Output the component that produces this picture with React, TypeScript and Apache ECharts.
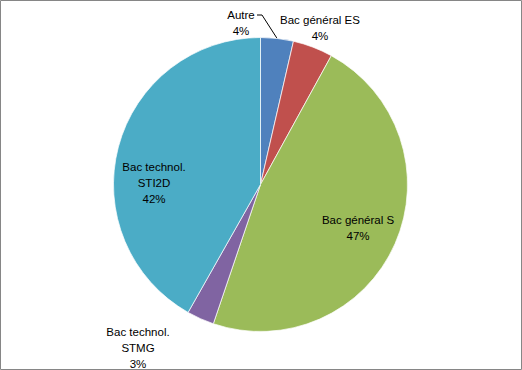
import React, { useEffect, useRef } from "react";
import * as echarts from "echarts";

const categories = ["Autre", "Bac général ES", "Bac général S", "Bac technol.\nSTMG", "Bac technol.\nSTI2D"];
const values = [3.6, 4.4, 47.2, 3.0, 41.8];
const colors = ["#4F81BD", "#C0504D", "#9BBB59", "#8064A2", "#4BACC6"];

// label anchor positions (center of text block) per slice
const labelPos: [number, number][] = [
  [241, 23],
  [320, 28],
  [358, 228],
  [138, 348],
  [154, 183],
];

export default function App() {
  const ref = useRef<HTMLDivElement>(null);
  useEffect(() => {
    if (!ref.current) return;
    const chart = echarts.init(ref.current, undefined, { renderer: "svg" });
    const cx = 260.5;
    const cy = 184.5;
    const r = 147;
    chart.setOption({
      animation: false,
      backgroundColor: "#ffffff",
      graphic: [
        {
          type: "rect",
          shape: { x: 0.5, y: 0.5, width: 521, height: 369 },
          style: { fill: "none", stroke: "#868686", lineWidth: 1 },
          silent: true,
          z: 100,
        },
      ],
      series: [
        {
          type: "pie",
          center: [cx, cy],
          radius: [0, r],
          startAngle: 90,
          clockwise: true,
          avoidLabelOverlap: false,
          percentPrecision: 0,
          itemStyle: { borderColor: "#ffffff", borderWidth: 0.7 },
          label: {
            show: true,
            position: "outside",
            formatter: (p: any) => `${p.name}\n${Math.round(p.percent)}%`,
            fontFamily: "Liberation Sans",
            fontSize: 11.5,
            color: "#000000",
            lineHeight: 16,
            align: "center",
          },
          labelLine: { show: false, lineStyle: { color: "#000000", width: 1 } },
          labelLayout: (params: any) => {
            const i = params.dataIndex;
            const [x, y] = labelPos[i];
            const res: any = { x, y, align: "center", verticalAlign: "middle" };
            if (i === 0) {
              const mid = (values[0] / 2 / 100) * Math.PI * 2;
              const ex = cx + r * Math.sin(mid);
              const ey = cy - r * Math.cos(mid);
              res.labelLinePoints = [
                [ex, ey],
                [262, 15],
                [257, 15],
              ];
            }
            return res;
          },
          data: categories.map((name, i) => ({
            name,
            value: values[i],
            itemStyle: { color: colors[i] },
            labelLine: { show: i === 0 },
          })),
        },
      ],
    });
    return () => chart.dispose();
  }, []);
  return (
    <div
      ref={ref}
      style={{ position: "absolute", left: 0, top: 0, width: 522, height: 370 }}
    />
  );
}
